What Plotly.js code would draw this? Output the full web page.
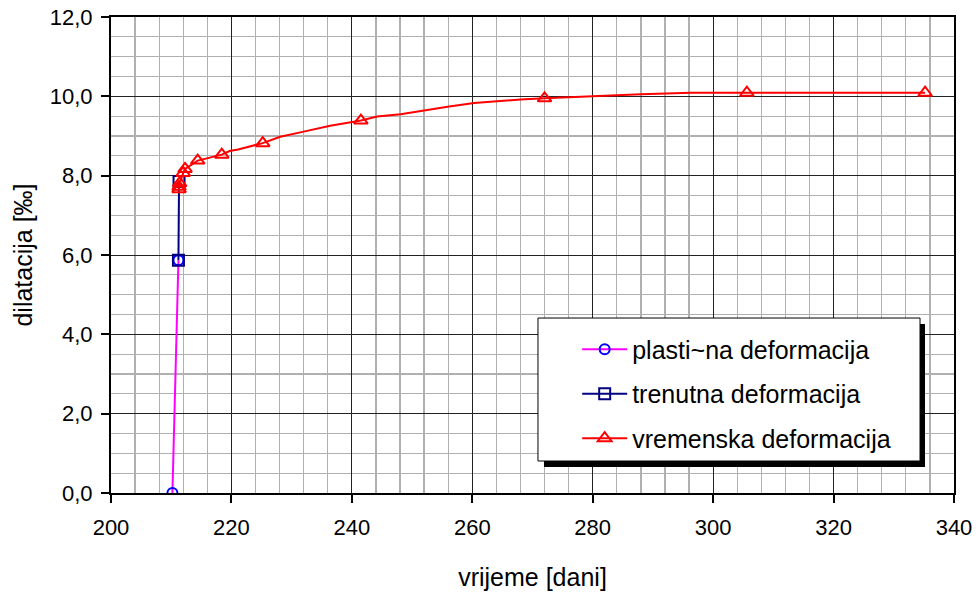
<!DOCTYPE html>
<html>
<head>
<meta charset="utf-8">
<script src="https://cdn.plot.ly/plotly-3.0.1.min.js"></script>
<style>html,body{margin:0;padding:0;background:#fff;}#chart{width:976px;height:596px;}</style>
</head>
<body>
<div id="chart"></div>
<script>
// plastična deformacija
const plastX = [210.2, 211.2];
const plastY = [0.0, 5.87];
// trenutna deformacija
const trenX = [211.2, 211.3];
const trenY = [5.87, 7.85];
// vremenska deformacija – marked points
const vremX = [211.3, 211.3, 211.4, 212.0, 212.3, 214.4, 218.4, 225.2, 241.5, 272.0, 305.6, 335.2];
const vremY = [7.66, 7.72, 7.81, 8.07, 8.17, 8.38, 8.53, 8.82, 9.39, 9.95, 10.09, 10.09];
// vremenska deformacija – intermediate curve points (no marker)
const vremCurveX = [219.7, 221.1, 228.1, 232.0, 236.4, 244.2, 248.1, 252.0, 255.9, 260.3, 264.2, 268.0, 280.2, 288.0, 296.3];
const vremCurveY = [8.62, 8.66, 8.98, 9.11, 9.26, 9.49, 9.55, 9.65, 9.74, 9.83, 9.88, 9.92, 10.01, 10.05, 10.09];

const seriesNames = ['plasti~na deformacija', 'trenutna deformacija', 'vremenska deformacija'];
const xTitle = 'vrijeme [dani]';
const yTitle = 'dilatacija [‰]';

// merge vremenska points
const merged = vremX.map((x, i) => ({x: x, y: vremY[i], m: true}))
  .concat(vremCurveX.map((x, i) => ({x: x, y: vremCurveY[i], m: false})))
  .sort((a, b) => (a.x - b.x) || (a.y - b.y));

const FONT = 'Liberation Sans, Arial, sans-serif';

const traces = [
  {
    x: plastX, y: plastY, name: seriesNames[0], mode: 'lines+markers', legendgroup: 'a',
    line: {color: '#FF00FF', width: 2},
    marker: {symbol: 'circle-open', size: 10, color: '#0000FF', line: {width: 2}}
  },
  {
    x: trenX, y: trenY, name: seriesNames[1], mode: 'lines+markers', legendgroup: 'b',
    line: {color: '#000080', width: 2},
    marker: {symbol: 'square-open', size: 11, color: '#000080', line: {width: 2}}
  },
  {
    x: merged.map(p => p.x), y: merged.map(p => p.y), name: seriesNames[2], mode: 'lines+markers', legendgroup: 'c',
    line: {color: '#FF0000', width: 2},
    marker: {symbol: 'triangle-up-open', size: 12,
             color: merged.map(p => p.m ? '#FF0000' : 'rgba(0,0,0,0)'), line: {width: 2}}
  }
];

const layout = {
  width: 976, height: 596,
  margin: {l: 111, r: 22, t: 17, b: 103},
  paper_bgcolor: '#fff', plot_bgcolor: '#fff',
  separators: ',.',
  font: {family: FONT, color: '#000', size: 22},
  showlegend: true,
  xaxis: {
    range: [200, 340], tick0: 200, dtick: 20, ticks: 'outside', ticklen: 8, tickwidth: 2, tickcolor: '#000',
    ticklabelstandoff: 6,
    showline: true, linecolor: '#000', linewidth: 2, mirror: true,
    showgrid: true, gridcolor: '#222', gridwidth: 1, zeroline: false,
    minor: {dtick: 4, showgrid: true, gridcolor: '#b0b0b0', gridwidth: 1.3, ticks: ''},
    tickfont: {size: 22, family: FONT},
    title: {text: xTitle, font: {size: 25, family: FONT}, standoff: 29}
  },
  yaxis: {
    range: [0, 12], tick0: 0, dtick: 2, tickformat: '.1f', ticks: 'outside', ticklen: 8, tickwidth: 2, tickcolor: '#000',
    ticklabelstandoff: 4,
    showline: true, linecolor: '#000', linewidth: 2, mirror: true,
    showgrid: true, gridcolor: '#222', gridwidth: 1, zeroline: false,
    minor: {dtick: 0.5, showgrid: true, gridcolor: '#b0b0b0', gridwidth: 1.3, ticks: ''},
    tickfont: {size: 22, family: FONT},
    title: {text: yTitle, font: {size: 25, family: FONT}, standoff: 10}
  },
  legend: {
    x: 0.553, y: 0.35, xanchor: 'left', yanchor: 'top',
    bgcolor: 'rgba(0,0,0,0)', borderwidth: 0,
    font: {size: 25, family: FONT, color: '#000'},
    traceorder: 'grouped', tracegroupgap: 9, itemwidth: 45
  },
  shapes: [
    {type: 'rect', xref: 'paper', yref: 'paper', x0: 0.5136, x1: 0.9656, y0: 0.0546, y1: 0.3550,
     fillcolor: '#000', line: {width: 0}, layer: 'above'},
    {type: 'rect', xref: 'paper', yref: 'paper', x0: 0.5065, x1: 0.9597, y0: 0.0672, y1: 0.3676,
     fillcolor: '#fff', line: {color: '#000', width: 1}, layer: 'above'}
  ]
};

Plotly.newPlot('chart', traces, layout, {displayModeBar: false, staticPlot: true});
</script>
</body>
</html>
